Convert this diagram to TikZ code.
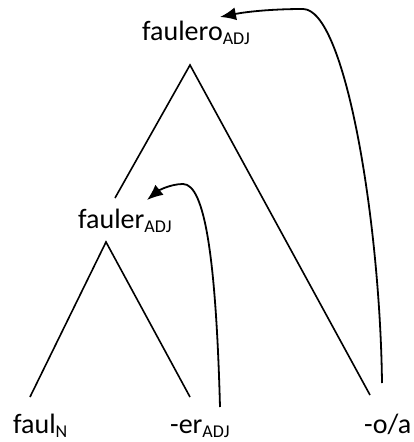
\documentclass[tikz,border=0pt]{standalone}
\usepackage{fontspec}
\setmainfont{Carlito}
\usetikzlibrary{arrows.meta}
\newcommand\sbx[1]{\raisebox{-4pt}{\fontsize{18}{18}\selectfont #1}}
\tikzset{
  word/.style={anchor=base west, inner sep=0pt, font=\fontsize{28}{30}\selectfont},
  branch/.style={line width=1.6pt},
  move/.style={line width=1.8pt, -{Latex[length=16pt,width=13pt]}}
}
\begin{document}
\begin{tikzpicture}[x=1pt,y=-1pt]
\useasboundingbox (0,0) rectangle (414,442);
\node[word] (faulero) at (142,40) {faulero\sbx{ADJ}};
\node[word] (fauler) at (78,228) {fauler\sbx{ADJ}};
\node[word] (faul) at (13,433) {faul\sbx{N}};
\node[word] (er) at (170,433) {-er\sbx{ADJ}};
\node[word] (oa) at (364,433) {-o/a};
% tree branches
\coordinate (top) at (190,65);
\coordinate (topL) at (115,198);
\coordinate (topR) at (370,395);
\coordinate (mid) at (106,242);
\coordinate (midL) at (30,397);
\coordinate (midR) at (190,397);
\draw[branch] (topL) -- (top) -- (topR);
\draw[branch] (midL) -- (mid) -- (midR);
% movement arrows
\coordinate (s1) at (220,407);
\coordinate (p1) at (183,184);
\coordinate (e1) at (147,200);
\draw[move] (s1) .. controls (216,260) and (205,184) .. (p1)
            .. controls (170,184) and (158,191) .. (e1);
\coordinate (s2) at (382,383);
\coordinate (p2) at (303,9);
\coordinate (e2) at (220,17);
\draw[move] (s2) .. controls (380,220) and (345,9) .. (p2)
            .. controls (270,9) and (245,12) .. (e2);
\end{tikzpicture}
\end{document}
